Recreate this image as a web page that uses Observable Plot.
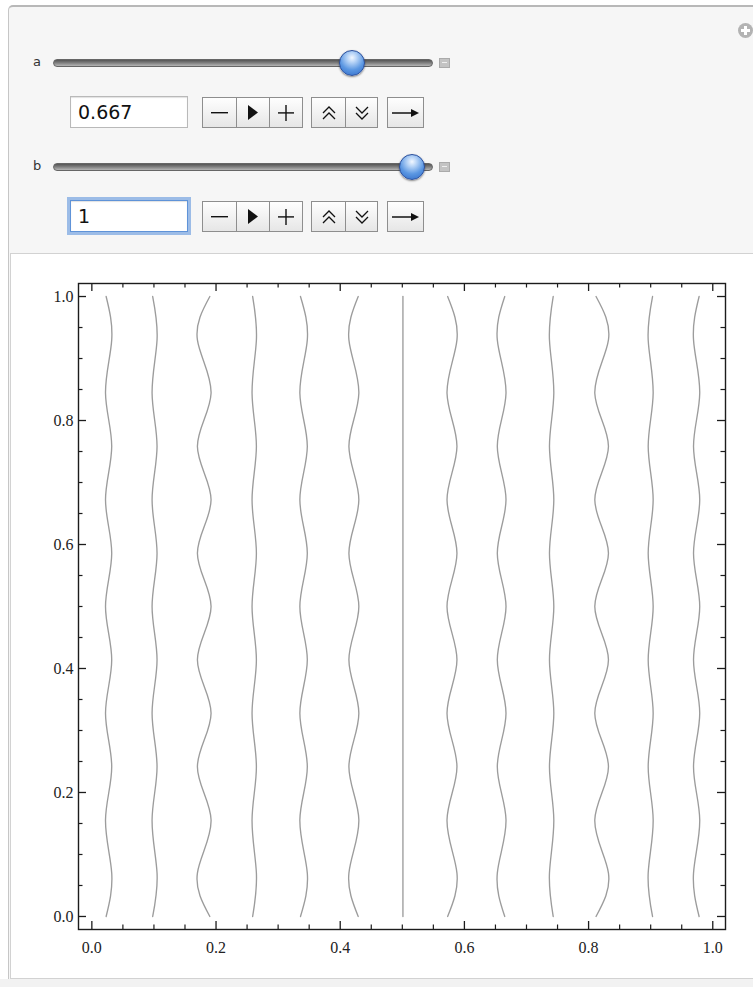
<!DOCTYPE html>
<html><head><meta charset="utf-8">
<script src="https://cdn.jsdelivr.net/npm/d3@7"></script>
<script src="https://cdn.jsdelivr.net/npm/@observablehq/plot@0.6"></script>
<style>
html,body{margin:0;padding:0;background:#fff;width:753px;height:987px;overflow:hidden;font-family:"DejaVu Sans",sans-serif;}
.abs{position:absolute;}
#panel{left:8px;top:5px;width:770px;height:990px;background:#f6f6f6;border:1px solid #c6c6c6;border-top:2px solid #b8b8b8;border-radius:5px 0 0 0;box-sizing:border-box;}
.lbl{font-size:13px;color:#333;}
.track{height:6px;border-radius:4px;border:1px solid #666;background:linear-gradient(to bottom,#555 0%,#7d7d7d 45%,#b5b5b5 100%);}
.thumb{width:26px;height:26px;border-radius:50%;box-sizing:border-box;border:1px solid #2b4f9c;
 background:radial-gradient(circle at 50% 28%,#f2f7ff 0%,#b9d5f7 22%,#5b97e2 58%,#2e69c6 100%);box-shadow:0 1px 2px rgba(0,0,0,.45);}
.mini{width:11px;height:10px;background:#c3c3c3;border:1px solid #aaa;box-sizing:border-box;}
.mini:after{content:"";position:absolute;left:2px;right:2px;top:3px;height:1px;background:#eee;}
.inp{width:118px;height:32px;box-sizing:border-box;background:#fff;border:1px solid #b9b9b9;box-shadow:inset 0 1px 1px rgba(0,0,0,.12);
 font-size:19px;line-height:30px;padding-left:7px;color:#111;}
.focus{border:1px solid #5f93d8;box-shadow:0 0 0 3px rgba(125,168,226,.75), inset 0 1px 1px rgba(0,0,0,.12);}
.btn{box-sizing:border-box;height:31px;border:1px solid #8e8e8e;background:linear-gradient(#fefefe,#e6e6e6);display:flex;align-items:center;justify-content:center;}
.btn + .btn{border-left:none;}
.grp{display:flex;}
#plotbox{left:10px;top:253px;width:760px;height:726px;background:#fff;border:1px solid #d2d2d2;box-sizing:border-box;}
#bottomband{left:0;top:979px;width:753px;height:8px;background:#f2f2f2;}
#chart{left:0;top:253px;}
#plus{left:738px;top:23px;width:15px;height:15px;border-radius:50%;background:#b3b3b3;}
#plus:before{content:"";position:absolute;left:3px;right:3px;top:6px;height:3px;background:#fff;}
#plus:after{content:"";position:absolute;top:3px;bottom:3px;left:6px;width:3px;background:#fff;}
</style></head>
<body>
<div id="panel" class="abs"></div>
<div id="plus" class="abs"></div>
<div id="controls"></div>
<div id="bottomband" class="abs"></div>
<div id="plotbox" class="abs"></div>
<div id="chart" class="abs"></div>
<script>
// ---- control values ----
const paramNames = ["a", "b"];
const paramValues = ["0.667", "1"];
const paramFractions = [0.8125, 0.983];

// ---- chart data: x position of each contour line at shared y samples ----
const sampleY = [1.0, 0.930, 0.844, 0.758, 0.672, 0.586, 0.5, 0.414, 0.328, 0.242, 0.156, 0.070, 0.0];
const curve1  = [0.023, 0.032, 0.022, 0.032, 0.022, 0.032, 0.022, 0.032, 0.022, 0.032, 0.022, 0.032, 0.023];
const curve2  = [0.098, 0.105, 0.097, 0.105, 0.097, 0.105, 0.097, 0.105, 0.097, 0.105, 0.097, 0.105, 0.098];
const curve3  = [0.190, 0.170, 0.192, 0.170, 0.192, 0.170, 0.192, 0.170, 0.192, 0.170, 0.192, 0.170, 0.190];
const curve4  = [0.259, 0.265, 0.258, 0.265, 0.258, 0.265, 0.258, 0.265, 0.258, 0.265, 0.258, 0.265, 0.259];
const curve5  = [0.336, 0.347, 0.335, 0.347, 0.335, 0.347, 0.335, 0.347, 0.335, 0.347, 0.335, 0.347, 0.336];
const curve6  = [0.429, 0.414, 0.430, 0.414, 0.430, 0.414, 0.430, 0.414, 0.430, 0.414, 0.430, 0.414, 0.429];
const curve7  = [0.501, 0.501, 0.501, 0.501, 0.501, 0.501, 0.501, 0.501, 0.501, 0.501, 0.501, 0.501, 0.501];
const curve8  = [0.573, 0.588, 0.572, 0.588, 0.572, 0.588, 0.572, 0.588, 0.572, 0.588, 0.572, 0.588, 0.573];
const curve9  = [0.665, 0.653, 0.667, 0.653, 0.667, 0.653, 0.667, 0.653, 0.667, 0.653, 0.667, 0.653, 0.665];
const curve10 = [0.743, 0.737, 0.744, 0.737, 0.744, 0.737, 0.744, 0.737, 0.744, 0.737, 0.744, 0.737, 0.743];
const curve11 = [0.812, 0.832, 0.810, 0.832, 0.810, 0.832, 0.810, 0.832, 0.810, 0.832, 0.810, 0.832, 0.812];
const curve12 = [0.903, 0.896, 0.904, 0.896, 0.904, 0.896, 0.904, 0.896, 0.904, 0.896, 0.904, 0.896, 0.903];
const curve13 = [0.978, 0.969, 0.979, 0.969, 0.979, 0.969, 0.979, 0.969, 0.979, 0.969, 0.979, 0.969, 0.978];
const curves = [curve1, curve2, curve3, curve4, curve5, curve6, curve7, curve8, curve9, curve10, curve11, curve12, curve13];

// ---- ticks ----
const majorTicks = [0, 0.2, 0.4, 0.6, 0.8, 1.0];
const minorTicks = [0.05, 0.1, 0.15, 0.25, 0.3, 0.35, 0.45, 0.5, 0.55, 0.65, 0.7, 0.75, 0.85, 0.9, 0.95];

// ---- controls (HTML) ----
const ctl = document.getElementById("controls");
const svgMinus = '<svg width="18" height="4"><rect x="0" y="1" width="17" height="1.4" fill="#111"/></svg>';
const svgPlay = '<svg width="12" height="15"><path d="M1,0 L11,7.5 L1,15 Z" fill="#111"/></svg>';
const svgPlus = '<svg width="16" height="16"><rect x="0" y="7.2" width="16" height="1.4" fill="#111"/><rect x="7.3" y="0" width="1.4" height="16" fill="#111"/></svg>';
const svgUp = '<svg width="16" height="16"><path d="M2,8 L8,2 L14,8 M2,14 L8,8 L14,14" fill="none" stroke="#111" stroke-width="1.3"/></svg>';
const svgDown = '<svg width="16" height="16"><path d="M2,2 L8,8 L14,2 M2,8 L8,14 L14,8" fill="none" stroke="#111" stroke-width="1.3"/></svg>';
const svgArrow = '<svg width="27" height="10"><path d="M0,5 L22,5" stroke="#111" stroke-width="1.5"/><path d="M19,1 L27,5 L19,9 Z" fill="#111"/></svg>';
paramNames.forEach((name, i) => {
  const yc = 63 + i * 104;
  const x0 = 53, x1 = 431;
  const thumbX = x0 + 13 + paramFractions[i] * (x1 - x0 - 26) ;
  ctl.insertAdjacentHTML("beforeend", `
    <div class="abs lbl" style="left:33px;top:${yc - 9}px;">${name}</div>
    <div class="abs track" style="left:${x0}px;top:${yc - 4}px;width:${x1 - x0}px;"></div>
    <div class="abs thumb" style="left:${thumbX - 13}px;top:${yc - 13}px;"></div>
    <div class="abs mini" style="left:439px;top:${yc - 5}px;"></div>
    <div class="abs inp ${i === 1 ? "focus" : ""}" style="left:70px;top:${yc + 33}px;">${paramValues[i]}</div>
    <div class="abs grp" style="left:202px;top:${yc + 34}px;">
      <div class="btn" style="width:35px">${svgMinus}</div><div class="btn" style="width:33px">${svgPlay}</div><div class="btn" style="width:33px">${svgPlus}</div>
    </div>
    <div class="abs grp" style="left:311px;top:${yc + 34}px;">
      <div class="btn" style="width:35px">${svgUp}</div><div class="btn" style="width:32px">${svgDown}</div>
    </div>
    <div class="abs grp" style="left:387px;top:${yc + 34}px;">
      <div class="btn" style="width:37px">${svgArrow}</div>
    </div>`);
});

// ---- chart ----
const lineData = curves.flatMap((xs, c) => xs.map((x, j) => ({curve: c, x, y: sampleY[j]})));
const W = 753, H = 730, mL = 78, mR = 28, mT = 30, mB = 54;
const innerW = W - mL - mR, innerH = H - mT - mB;
const major = 8, minor = 4.5, ink = "#1c1c1c";
const chart = Plot.plot({
  width: W, height: H,
  marginLeft: mL, marginRight: mR, marginTop: mT, marginBottom: mB,
  x: {domain: [-0.0215, 1.0205], label: null},
  y: {domain: [-0.021, 1.021], label: null},
  style: {background: "transparent", fontFamily: "'Liberation Serif', 'DejaVu Serif', serif", fontSize: "16px", color: "#222"},
  marks: [
    Plot.line(lineData, {x: "x", y: "y", z: "curve", curve: "natural", stroke: "#9c9c9c", strokeWidth: 1.35}),
    Plot.ruleX(majorTicks, {insetTop: innerH - major, stroke: ink, strokeWidth: 1.3}),
    Plot.ruleX(majorTicks, {insetBottom: innerH - major, stroke: ink, strokeWidth: 1.3}),
    Plot.ruleX(minorTicks, {insetTop: innerH - minor, stroke: ink, strokeWidth: 1.2}),
    Plot.ruleX(minorTicks, {insetBottom: innerH - minor, stroke: ink, strokeWidth: 1.2}),
    Plot.ruleY(majorTicks, {insetRight: innerW - major, stroke: ink, strokeWidth: 1.3}),
    Plot.ruleY(majorTicks, {insetLeft: innerW - major, stroke: ink, strokeWidth: 1.3}),
    Plot.ruleY(minorTicks, {insetRight: innerW - minor, stroke: ink, strokeWidth: 1.2}),
    Plot.ruleY(minorTicks, {insetLeft: innerW - minor, stroke: ink, strokeWidth: 1.2}),
    Plot.frame({stroke: ink, strokeWidth: 1.4}),
    Plot.axisX(majorTicks, {anchor: "bottom", tickSize: 0, tickPadding: 12, tickFormat: d3.format(".1f")}),
    Plot.axisY(majorTicks, {anchor: "left", tickSize: 0, tickPadding: 5, tickFormat: d3.format(".1f")})
  ]
});
document.getElementById("chart").appendChild(chart);
</script>
</body></html>
